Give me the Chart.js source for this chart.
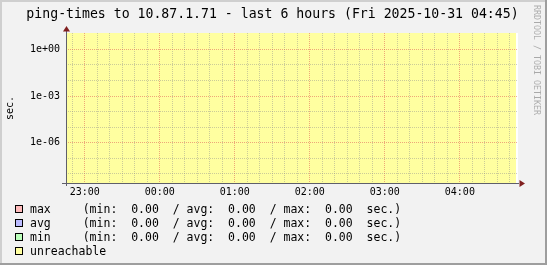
<!DOCTYPE html>
<html>
<head>
<meta charset="utf-8">
<script src="https://cdn.jsdelivr.net/npm/chart.js@4.4.1/dist/chart.umd.min.js"></script>
<style>
  html, body { margin: 0; padding: 0; background: #f2f2f2; }
  canvas { display: block; }
</style>
</head>
<body>
<canvas id="chart" width="547" height="265"></canvas>
<script>
// --- data ---
const titleText = 'ping-times to 10.87.1.71 - last 6 hours (Fri 2025-10-31 04:45)';
const yTitle = 'sec.';

// minutes relative to 23:00
const hourMinutes = [0, 60, 120, 180, 240, 300];
const hourLabels = ['23:00', '00:00', '01:00', '02:00', '03:00', '04:00'];

// host was down the whole window -> unreachable area goes to the top
const sampleMinutes = [-15, 0, 60, 120, 180, 240, 300, 345];
const unreachableVals = [100, 100, 100, 100, 100, 100, 100, 100];
const maxVals = [null, null, null, null, null, null, null, null];
const avgVals = [null, null, null, null, null, null, null, null];
const minVals = [null, null, null, null, null, null, null, null];

const seriesNames = ['max', 'avg', 'min', 'unreachable'];
const seriesColors = ['#ffbbbb', '#bbbbff', '#bbffbb', '#ffffa0'];
const statMin = [0.00, 0.00, 0.00];
const statAvg = [0.00, 0.00, 0.00];
const statMax = [0.00, 0.00, 0.00];

// log axis: one grid line per decade, label every third
const yExponents = [-8, -7, -6, -5, -4, -3, -2, -1, 0];
const yMin = 2.6e-9, yMax = 11.1;

const MONO = '"DejaVu Sans Mono", "Liberation Mono", monospace';
const GRID = 'rgba(143,143,143,0.45)';
const MGRID = 'rgba(222,79,79,0.5)';

function expLabel(v) {
  const e = Math.round(Math.log10(v));
  if (e % 3 !== 0) return '';
  const a = Math.abs(e);
  return '1e' + (e < 0 ? '-' : '+') + (a < 10 ? '0' + a : a);
}

const rrdPlugin = {
  id: 'rrd',
  beforeDraw(chart) {
    const { ctx, width, height, chartArea: a } = chart;
    ctx.save();
    ctx.fillStyle = '#f2f2f2';
    ctx.fillRect(0, 0, width, height);
    // shade frame
    ctx.fillStyle = '#cfcfcf';
    ctx.fillRect(0, 0, width, 2);
    ctx.fillRect(0, 0, 2, height);
    ctx.fillStyle = '#9e9e9e';
    ctx.fillRect(0, height - 2, width, 2);
    ctx.fillRect(width - 2, 0, 2, height);
    // canvas
    ctx.fillStyle = '#ffffff';
    ctx.fillRect(a.left, a.top, a.right - a.left, a.bottom - a.top);
    ctx.restore();
  },
  afterDraw(chart) {
    const { ctx, chartArea: a } = chart;
    ctx.save();

    // title
    ctx.fillStyle = '#000';
    ctx.font = '13.2px ' + MONO;
    ctx.textAlign = 'center';
    ctx.textBaseline = 'alphabetic';
    ctx.fillText(titleText, 272.5, 17.5);

    // axes + arrows
    const ax = a.left + 0.5, ay = a.bottom + 0.5;
    ctx.strokeStyle = '#5f5f6a';
    ctx.lineWidth = 1;
    ctx.beginPath();
    ctx.moveTo(ax, a.bottom + 3);
    ctx.lineTo(ax, a.top - 3);
    ctx.moveTo(a.left - 4, ay);
    ctx.lineTo(a.right + 1, ay);
    ctx.stroke();
    ctx.fillStyle = '#801f1f';
    ctx.beginPath();
    ctx.moveTo(ax, a.top - 7);
    ctx.lineTo(ax - 3.5, a.top - 1.5);
    ctx.lineTo(ax + 3.5, a.top - 1.5);
    ctx.closePath();
    ctx.fill();
    ctx.beginPath();
    ctx.moveTo(a.right + 7, ay);
    ctx.lineTo(a.right + 1.5, ay - 3.5);
    ctx.lineTo(a.right + 1.5, ay + 3.5);
    ctx.closePath();
    ctx.fill();

    // legend
    ctx.font = '11.5px ' + MONO;
    ctx.textAlign = 'left';
    chart.data.datasets.forEach((ds, i) => {
      const base = 212.5 + i * 14;
      ctx.fillStyle = ds.backgroundColor;
      ctx.fillRect(15, base - 7.5, 8, 8);
      ctx.strokeStyle = '#000';
      ctx.strokeRect(15.5, base - 7, 7, 7);
      ctx.fillStyle = '#000';
      ctx.fillText(ds.label, 30, base);
      if (i < statMin.length) {
        const s = '(min:  ' + statMin[i].toFixed(2) + '  / avg:  ' + statAvg[i].toFixed(2) +
                  '  / max:  ' + statMax[i].toFixed(2) + '  sec.)';
        ctx.fillText(s, 82.7, base);
      }
    });

    // watermark
    ctx.translate(534, 5);
    ctx.rotate(Math.PI / 2);
    ctx.font = '8.3px ' + MONO;
    ctx.fillStyle = 'rgba(0,0,0,0.3)';
    ctx.textBaseline = 'alphabetic';
    ctx.fillText('RRDTOOL / TOBI OETIKER', 0, 0);
    ctx.restore();
  }
};

new Chart(document.getElementById('chart'), {
  type: 'line',
  data: {
    datasets: [
      { label: seriesNames[0], data: sampleMinutes.map((m, i) => ({ x: m, y: maxVals[i] })), backgroundColor: seriesColors[0], borderColor: seriesColors[0], borderWidth: 0, pointRadius: 0 },
      { label: seriesNames[1], data: sampleMinutes.map((m, i) => ({ x: m, y: avgVals[i] })), backgroundColor: seriesColors[1], borderColor: seriesColors[1], borderWidth: 0, pointRadius: 0 },
      { label: seriesNames[2], data: sampleMinutes.map((m, i) => ({ x: m, y: minVals[i] })), backgroundColor: seriesColors[2], borderColor: seriesColors[2], borderWidth: 0, pointRadius: 0 },
      { label: seriesNames[3], data: sampleMinutes.map((m, i) => ({ x: m, y: unreachableVals[i] })), backgroundColor: seriesColors[3], borderColor: seriesColors[3], borderWidth: 0, pointRadius: 0, fill: 'start', stepped: true }
    ]
  },
  options: {
    responsive: false,
    animation: false,
    devicePixelRatio: 1,
    layout: { padding: { top: 33, right: 29, bottom: 62, left: 0 } },
    plugins: { legend: { display: false }, title: { display: false }, tooltip: { enabled: false } },
    scales: {
      x: {
        type: 'linear',
        min: -15,
        max: 346.5,
        afterFit: s => { s.height = 20; },
        afterBuildTicks: s => {
          const t = [];
          for (let m = -10; m <= 340; m += 10) t.push({ value: m });
          s.ticks = t;
        },
        ticks: {
          autoSkip: false,
          maxRotation: 0,
          padding: 3,
          color: '#000',
          font: { family: MONO, size: 10 },
          callback: v => { const i = hourMinutes.indexOf(v); return i < 0 ? '' : hourLabels[i]; }
        },
        grid: {
          z: 1,
          drawTicks: false,
          lineWidth: 1,
          color: c => hourMinutes.includes(c.tick.value) ? MGRID : GRID
        },
        border: { display: false, dash: [1, 1] }
      },
      y: {
        type: 'logarithmic',
        min: yMin,
        max: yMax,
        afterFit: s => { s.width = 66; },
        afterBuildTicks: s => { s.ticks = yExponents.map(e => ({ value: Math.pow(10, e) })); },
        ticks: {
          autoSkip: false,
          padding: 6,
          color: '#000',
          font: { family: MONO, size: 10 },
          callback: v => expLabel(v)
        },
        title: {
          display: true,
          text: yTitle,
          color: '#000',
          font: { family: MONO, size: 10 },
          padding: { top: 4, bottom: 0 }
        },
        grid: {
          z: 1,
          drawTicks: false,
          lineWidth: 1,
          color: c => Math.round(Math.log10(c.tick.value)) % 3 === 0 ? MGRID : GRID
        },
        border: { display: false, dash: [1, 1] }
      }
    }
  },
  plugins: [rrdPlugin]
});
</script>
</body>
</html>
